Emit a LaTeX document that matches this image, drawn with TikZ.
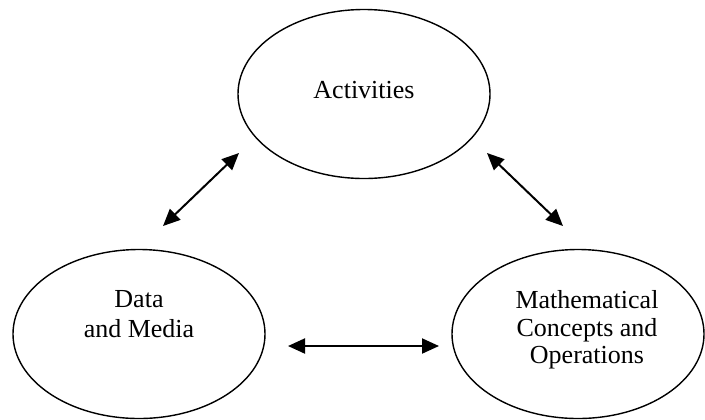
\documentclass[tikz,border=0pt]{standalone}
\usepackage{fontspec}
\setmainfont{Liberation Serif}
\usepackage{tikz}
\usetikzlibrary{arrows.meta, shapes.geometric, positioning}

\tikzset{
  bubble/.style={draw, ellipse, line width=0.7pt, inner sep=0pt,
                 minimum width=126pt, minimum height=84.5pt},
  bubbletext/.style={align=center, font=\fontsize{13}{15}\selectfont},
  link/.style={{Triangle[length=8.5pt, width=7.5pt]}-{Triangle[length=8.5pt, width=7.5pt]},
               line width=1pt}
}

\begin{document}
\begin{tikzpicture}[x=0.5pt, y=-0.5pt]
  \useasboundingbox (0,0) rectangle (705,419);

  % the three ellipses
  \node[bubble] (act)  at (364,94)  {};
  \node[bubble] (data) at (139,334) {};
  \node[bubble] (math) at (578,334) {};

  % their texts
  \node[bubbletext] (act-txt)  at (364,90)  {Activities};
  \node[bubbletext] (data-txt) at (139,314) {Data\\and Media};
  \node[bubbletext, font=\fontsize{13}{13.75}\selectfont]
        (math-txt) at (587,330) {Mathematical\\Concepts and\\Operations};

  % arrow end points
  \coordinate (l-top) at (239,153);
  \coordinate (l-bot) at (163,226);
  \coordinate (r-top) at (487,153);
  \coordinate (r-bot) at (563,226);
  \coordinate (h-left)  at (288,346);
  \coordinate (h-right) at (439,346);

  \draw[link] (l-bot) -- (l-top);
  \draw[link] (r-top) -- (r-bot);
  \draw[link] (h-left) -- (h-right);
\end{tikzpicture}
\end{document}
